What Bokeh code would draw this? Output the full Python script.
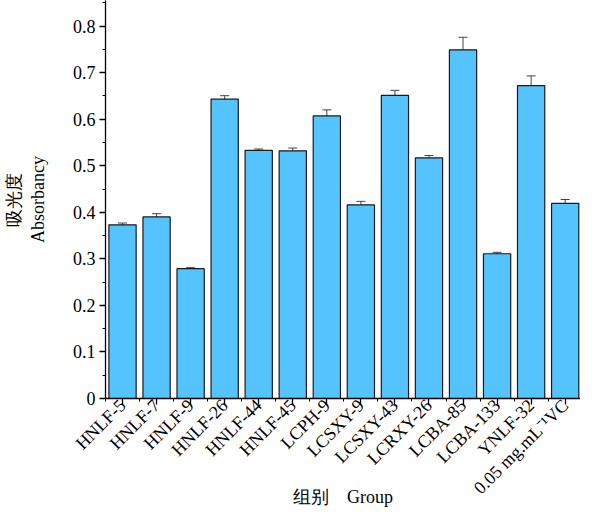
import math
from bokeh.plotting import figure
from bokeh.models import (ColumnDataSource, Whisker, FixedTicker, SingleIntervalTicker,
                          Range1d, TeeHead)
from bokeh.embed import file_html
from bokeh.resources import INLINE

groups = ["HNLF-5", "HNLF-7", "HNLF-9", "HNLF-26", "HNLF-44", "HNLF-45", "LCPH-9",
          "LCSXY-9", "LCSXY-43", "LCRXY-26", "LCBA-85", "LCBA-133", "YNLF-32",
          "0.05 mg.mL⁻¹VC"]
absorbance = [0.373, 0.390, 0.279, 0.643, 0.533, 0.532, 0.607,
              0.416, 0.651, 0.517, 0.749, 0.311, 0.672, 0.419]
errors = [0.004, 0.007, 0.002, 0.0075, 0.003, 0.006, 0.013,
          0.0075, 0.011, 0.005, 0.027, 0.003, 0.021, 0.0085]

y_title = "吸光度\nAbsorbancy"
x_title = "组别\u00a0\u00a0\u00a0\u00a0Group"

FONT = "Liberation Serif"

xs = list(range(len(groups)))
src = ColumnDataSource(dict(
    x=xs, top=absorbance,
    upper=[a + e for a, e in zip(absorbance, errors)],
    lower=[a - e for a, e in zip(absorbance, errors)],
))

p = figure(width=580, height=509, output_backend="svg", toolbar_location=None,
           x_range=Range1d(-0.5, len(groups) - 0.55), y_range=Range1d(0, 0.855),
           min_border_left=94, min_border_right=0, min_border_top=0,
           min_border_bottom=110)
p.outline_line_color = None
p.xgrid.visible = False
p.ygrid.visible = False
p.background_fill_color = "white"
p.border_fill_color = "white"

p.vbar(x="x", top="top", width=0.8, source=src, fill_color="#55C3FD",
       line_color="#1a1a1a", line_width=1.2)

w = Whisker(base="x", upper="upper", lower="lower", source=src,
            line_color="#444444", line_width=1,
            upper_head=TeeHead(size=9, line_color="#444444", line_width=1),
            lower_head=TeeHead(size=9, line_color="#444444", line_width=1))
p.add_layout(w)

# y axis
yax = p.yaxis[0]
yax.ticker = SingleIntervalTicker(interval=0.1, num_minor_ticks=2)
yax.major_label_overrides = {0: "0"}
yax.axis_label = y_title
yax.axis_label_standoff = 22

# x axis
xax = p.xaxis[0]
xax.ticker = FixedTicker(ticks=xs, minor_ticks=[i - 0.5 for i in range(len(groups) + 1)])
xax.major_label_overrides = {i: g for i, g in enumerate(groups)}
xax.major_label_orientation = math.pi / 4
xax.axis_label = x_title
xax.axis_label_standoff = -21

for ax in (xax, yax):
    ax.axis_line_color = "black"
    ax.axis_line_width = 1.3
    ax.major_tick_line_color = "black"
    ax.minor_tick_line_color = "black"
    ax.major_tick_line_width = 1.3
    ax.minor_tick_line_width = 1.0
    ax.major_tick_in = 0
    ax.major_tick_out = 6
    ax.minor_tick_in = 0
    ax.minor_tick_out = 3
    ax.major_label_text_font = FONT
    ax.major_label_text_font_size = "18px"
    ax.major_label_text_color = "black"
    ax.major_label_standoff = 4
    ax.axis_label_text_font = FONT
    ax.axis_label_text_font_size = "18px"
    ax.axis_label_text_font_style = "normal"
    ax.axis_label_text_color = "black"
xax.major_label_standoff = -2

open("out.html", "w").write(file_html(p, INLINE))
